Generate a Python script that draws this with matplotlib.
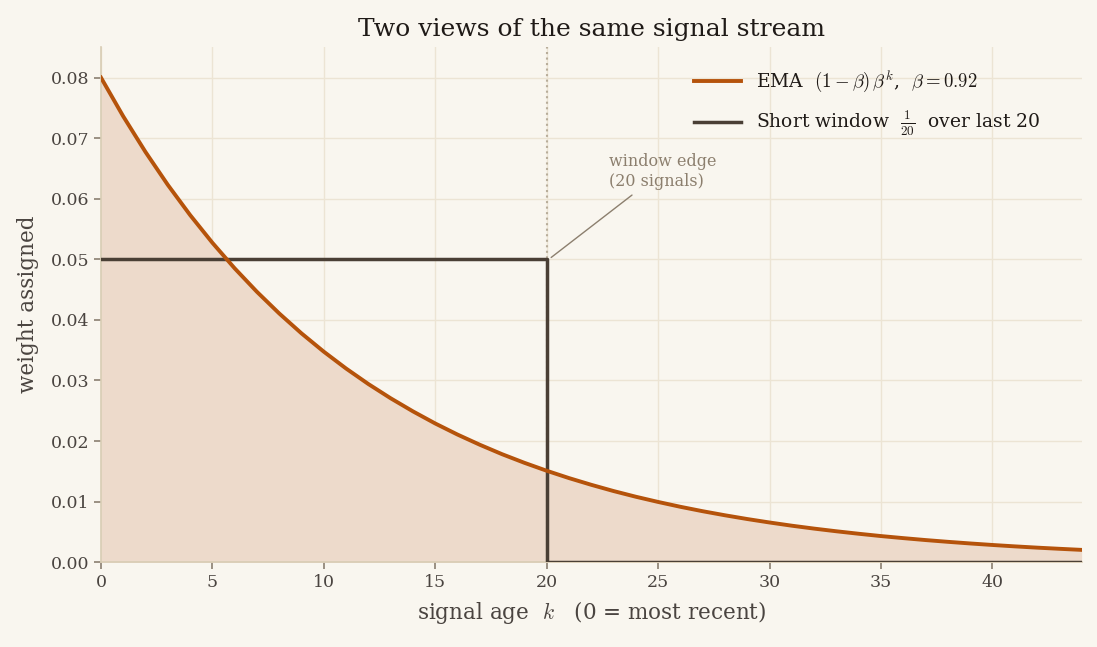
import matplotlib
matplotlib.use("Agg")
import matplotlib.pyplot as plt

# signal age k and EMA weights (1-b) b^k, b = 0.92, read at integer ages
ages = list(range(45))
ema_weights = [0.0800, 0.0736, 0.06771, 0.06229, 0.05731, 0.05273, 0.04851, 0.04463,
               0.04106, 0.03777, 0.03475, 0.03197, 0.02941, 0.02706, 0.02490, 0.02290,
               0.02107, 0.01939, 0.01783, 0.01641, 0.01510, 0.01389, 0.01278, 0.01175,
               0.01081, 0.00995, 0.00915, 0.00842, 0.00775, 0.00713, 0.00656, 0.00603,
               0.00555, 0.00511, 0.00470, 0.00432, 0.00398, 0.00366, 0.00337, 0.00310,
               0.00285, 0.00262, 0.00241, 0.00222, 0.00204]

# short window: 1/20 for the last 20 signals, 0 afterwards
window_x = [0, 20, 20, 44]
window_y = [0.05, 0.05, 0.0, 0.0]
window_edge = 20

bg = '#f9f6ef'
plt.rcParams['font.family'] = ['DejaVu Serif']
plt.rcParams['mathtext.fontset'] = 'cm'

fig = plt.figure(figsize=(10.97, 6.47), dpi=100, facecolor=bg)
ax = fig.add_axes([0.092, 0.131, 0.894, 0.796], facecolor=bg)

ax.grid(True, color='#ece4d4', linewidth=1.0, zorder=0)
ax.set_axisbelow(True)

ax.fill_between(ages, ema_weights, 0, color='#eddacb', zorder=1, linewidth=0)
ax.axvline(window_edge, color='#b8ad9a', linestyle=':', linewidth=1.5, zorder=2)
ax.plot(ages, ema_weights, color='#b5530b', linewidth=2.8, zorder=4,
        label=r'EMA  $(1-\beta)\,\beta^{k}$,  $\beta=0.92$')
ax.plot(window_x, window_y, color='#4a3f35', linewidth=2.5, zorder=3,
        label=r'Short window  $\frac{1}{20}$  over last 20')

ax.annotate('window edge\n(20 signals)', xy=(window_edge + 0.2, 0.0503),
            xytext=(25.2, 0.0645), ha='center', va='center', multialignment='left',
            fontsize=11.5, color='#8c7f6e',
            arrowprops=dict(arrowstyle='-', color='#8c7f6e', linewidth=1.0,
                            shrinkA=3, shrinkB=0))

ax.set_xlim(0, 44)
ax.set_ylim(0, 0.085)
ax.set_xticks(range(0, 45, 5))
ax.set_yticks([i / 100 for i in range(9)])
ax.yaxis.set_major_formatter(matplotlib.ticker.FormatStrFormatter('%.2f'))

for side in ['top', 'right']:
    ax.spines[side].set_visible(False)
for side in ['left', 'bottom']:
    ax.spines[side].set_color('#d8ccb4')
    ax.spines[side].set_linewidth(1.2)
ax.tick_params(colors='#8a7f70', labelcolor='#4a4440', labelsize=12.5, length=5, width=1.2)

ax.set_xlabel(r'signal age  $k$   (0 = most recent)', fontsize=15.5, color='#4a4440', labelpad=6)
ax.set_ylabel('weight assigned', fontsize=15.5, color='#4a4440', labelpad=8)
ax.set_title('Two views of the same signal stream', fontsize=18, color='#1f1a17', pad=8)

leg = ax.legend(loc='upper right', frameon=False, fontsize=13.5, handlelength=2.5,
                labelspacing=0.75, bbox_to_anchor=(0.975, 0.99))
for t in leg.get_texts():
    t.set_color('#1f1a17')

fig.savefig('out.png', dpi=100, facecolor=bg)
